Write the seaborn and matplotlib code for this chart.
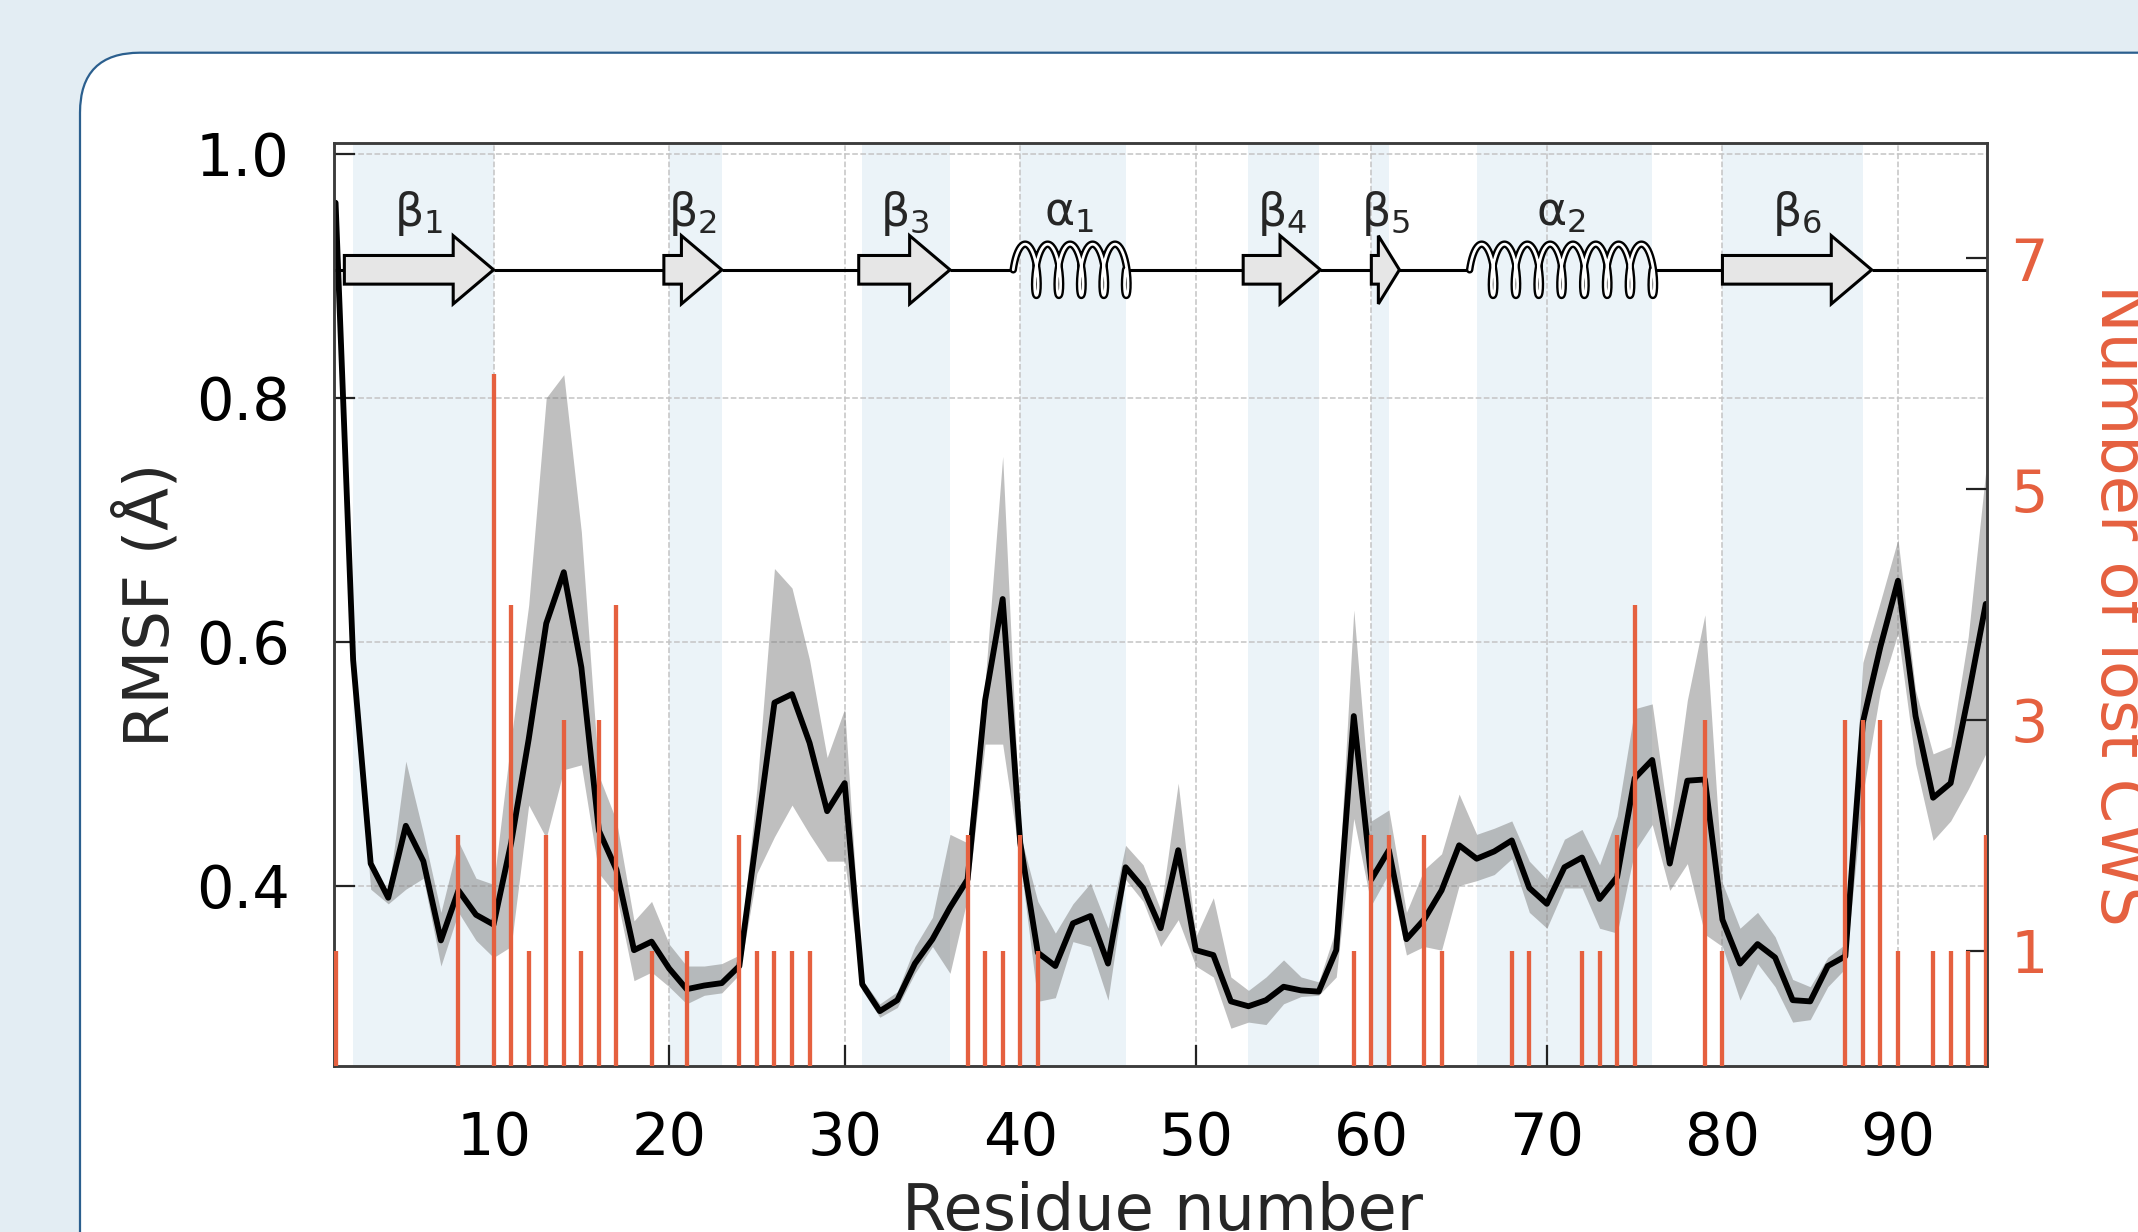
import numpy as np
import pandas as pd
import matplotlib.pyplot as plt
import seaborn as sns
from matplotlib.patches import FancyArrow, FancyBboxPatch
from matplotlib.transforms import IdentityTransform

# ---------------------------------------------------------------
# data
residues = list(range(1, 96))

rmsf = [0.960, 0.585, 0.418, 0.390, 0.449, 0.420, 0.355, 0.396, 0.376, 0.368,
        0.435, 0.520, 0.615, 0.657, 0.579, 0.445, 0.413, 0.347, 0.354, 0.332,
        0.315, 0.318, 0.320, 0.334, 0.442, 0.550, 0.557, 0.517, 0.461, 0.484,
        0.319, 0.297, 0.306, 0.336, 0.356, 0.382, 0.405, 0.552, 0.635, 0.435,
        0.345, 0.334, 0.369, 0.375, 0.336, 0.415, 0.398, 0.365, 0.429, 0.347,
        0.343, 0.305, 0.301, 0.306, 0.317, 0.314, 0.313, 0.347, 0.539, 0.405,
        0.429, 0.356, 0.372, 0.396, 0.433, 0.422, 0.428, 0.437, 0.398, 0.385,
        0.415, 0.423, 0.389, 0.407, 0.488, 0.503, 0.418, 0.486, 0.487, 0.372,
        0.336, 0.352, 0.341, 0.306, 0.305, 0.334, 0.342, 0.534, 0.596, 0.650,
        0.539, 0.472, 0.484, 0.555, 0.631]

rmsf_upper = [0.965, 0.600, 0.422, 0.394, 0.502, 0.443, 0.378, 0.436, 0.406, 0.401,
              0.520, 0.630, 0.800, 0.819, 0.690, 0.490, 0.453, 0.371, 0.387, 0.352,
              0.334, 0.334, 0.336, 0.343, 0.480, 0.660, 0.644, 0.585, 0.505, 0.545,
              0.323, 0.303, 0.313, 0.350, 0.374, 0.442, 0.435, 0.567, 0.752, 0.442,
              0.387, 0.361, 0.385, 0.402, 0.365, 0.433, 0.417, 0.380, 0.484, 0.358,
              0.390, 0.325, 0.314, 0.325, 0.339, 0.325, 0.321, 0.365, 0.626, 0.453,
              0.462, 0.378, 0.413, 0.426, 0.475, 0.442, 0.447, 0.453, 0.420, 0.405,
              0.438, 0.446, 0.417, 0.457, 0.545, 0.549, 0.446, 0.552, 0.622, 0.402,
              0.365, 0.378, 0.358, 0.323, 0.317, 0.341, 0.352, 0.583, 0.633, 0.684,
              0.560, 0.508, 0.514, 0.604, 0.740]

rmsf_lower = [0.955, 0.570, 0.397, 0.385, 0.397, 0.406, 0.334, 0.378, 0.355, 0.341,
              0.350, 0.466, 0.439, 0.495, 0.499, 0.410, 0.392, 0.322, 0.329, 0.317,
              0.303, 0.310, 0.312, 0.327, 0.410, 0.440, 0.466, 0.442, 0.420, 0.420,
              0.314, 0.292, 0.300, 0.328, 0.350, 0.328, 0.390, 0.516, 0.516, 0.420,
              0.305, 0.308, 0.354, 0.350, 0.306, 0.405, 0.387, 0.350, 0.372, 0.334,
              0.325, 0.283, 0.288, 0.286, 0.303, 0.309, 0.310, 0.325, 0.455, 0.384,
              0.410, 0.343, 0.350, 0.347, 0.400, 0.404, 0.409, 0.422, 0.378, 0.365,
              0.398, 0.398, 0.365, 0.361, 0.428, 0.450, 0.396, 0.418, 0.360, 0.350,
              0.306, 0.336, 0.317, 0.288, 0.290, 0.317, 0.332, 0.475, 0.560, 0.607,
              0.500, 0.437, 0.453, 0.479, 0.508]

cws_residues = [1, 8, 10, 11, 12, 13, 14, 15, 16, 17, 19, 21, 24, 25, 26, 27, 28,
                37, 38, 39, 40, 41, 59, 60, 61, 63, 64, 68, 69, 72, 73, 74, 75,
                79, 80, 87, 88, 89, 90, 92, 93, 94, 95]
cws_counts = [1, 2, 6, 4, 1, 2, 3, 1, 3, 4, 1, 1, 2, 1, 1, 1, 1,
              2, 1, 1, 2, 1, 1, 2, 2, 2, 1, 1, 1, 1, 1, 2, 4,
              3, 1, 3, 3, 3, 1, 1, 1, 1, 2]

# secondary structure
strand_labels = ["β$_1$", "β$_2$", "β$_3$", "β$_4$", "β$_5$", "β$_6$"]
strand_ranges = [(1.5, 10.0), (19.7, 23.0), (30.8, 36.0), (52.7, 57.1), (60.0, 61.6), (80.0, 88.5)]
helix_labels = ["α$_1$", "α$_2$"]
helix_ranges = [(39.6, 46.0), (65.6, 76.0)]
shaded_ranges = [(2, 10), (20, 23), (31, 36), (40, 46), (53, 57), (60, 61), (66, 76), (80, 88)]

RED = "#e5603f"
BG = "#e3edf3"

# ---------------------------------------------------------------
sns.set_theme(style="white")
plt.rcParams["font.family"] = ["DejaVu Sans"]
plt.rcParams["mathtext.fontset"] = "dejavusans"

W, H = 2138, 1232
fig = plt.figure(figsize=(W / 100, H / 100), dpi=100)
fig.patch.set_facecolor(BG)

# the white card behind the figure
card = FancyBboxPatch((80, -300), 2600, 1179.3 + 300, boxstyle="round,pad=0,rounding_size=60",
                      transform=IdentityTransform(), facecolor="white",
                      edgecolor="#2b5f8e", linewidth=1.6, zorder=-10)
fig.add_artist(card)

ax = fig.add_axes([334 / W, 1 - 1066 / H, 1653 / W, 923 / H])
ax.set_facecolor("none")

for s, e in shaded_ranges:
    ax.axvspan(s, e, color="#1f77b4", alpha=0.085, lw=0, zorder=0)

ax.grid(True, ls="--", color="#c4c4c4", lw=1.1)
ax.set_axisbelow(True)

df = pd.DataFrame({"Residue": residues, "RMSF": rmsf,
                   "upper": rmsf_upper, "lower": rmsf_lower})
ax.fill_between(df["Residue"], df["lower"], df["upper"], color="gray", alpha=0.5, lw=0, zorder=1)
sns.lineplot(data=df, x="Residue", y="RMSF", ax=ax, color="black", linewidth=4.2, zorder=2)

ax.set_xlim(0.91, 95.07)
ax.set_ylim(0.252, 1.009)
ax.set_xticks([10, 20, 30, 40, 50, 60, 70, 80, 90])
ax.set_yticks([0.4, 0.6, 0.8, 1.0])

# topology diagram
yc = 0.905
elements = sorted(strand_ranges + helix_ranges)
xs = [ax.get_xlim()[0]] + [v for el in elements for v in el] + [ax.get_xlim()[1]]
for i in range(0, len(xs), 2):
    ax.plot([xs[i], xs[i + 1]], [yc, yc], color="black", lw=2.2, zorder=4,
            solid_capstyle="butt")

for (s, e), lab in zip(strand_ranges, strand_labels):
    hl = min(2.3, 0.75 * (e - s))
    ax.add_patch(FancyArrow(s, yc, e - s, 0, width=0.0235, head_width=0.056,
                            head_length=hl, length_includes_head=True,
                            facecolor="#e6e6e6", edgecolor="black", lw=2.2, zorder=5))
    ax.text((s + e) / 2, 0.941, lab, ha="center", va="baseline", fontsize=33, zorder=6)

for (s, e), lab in zip(helix_ranges, helix_labels):
    n = max(1, round((e - s) / 1.3))
    t = np.linspace(0, n, 80 * n)
    hx = s + (e - s) * t / n + 0.36 * (1 - np.cos(2 * np.pi * t))
    hy = yc + 0.021 * np.sin(2 * np.pi * t)
    ax.plot(hx, hy, color="black", lw=5.4, zorder=5, solid_capstyle="round")
    ax.plot(hx, hy, color="white", lw=2.0, zorder=5.5, solid_capstyle="round")
    ax.text((s + e) / 2, 0.941, lab, ha="center", va="baseline", fontsize=33, zorder=6)

ax.set_xlabel("Residue number", fontsize=46)
ax.set_ylabel("RMSF (Å)", fontsize=45)
ax.xaxis.set_label_coords(0.501, -0.1246)
ax.yaxis.set_label_coords(-0.092, 0.5)

ax.tick_params(axis="both", direction="in", length=15, width=1.6, labelsize=42.5,
               pad=32, colors="#222222", labelcolor="black", top=False, right=False,
               bottom=True, left=True)
for sp in ax.spines.values():
    sp.set_color("#3c3c3c")
    sp.set_linewidth(1.8)

# lost CWS on the right axis
ax2 = ax.twinx()
ax2.vlines(cws_residues, 0, cws_counts, color=RED, lw=3.1, zorder=3)
ax2.set_ylim(0, 8)
ax2.set_yticks([1, 3, 5, 7])
ax2.grid(False)
ax2.tick_params(axis="y", direction="in", length=15, width=1.6, labelsize=42.5,
                pad=17, colors="#222222", labelcolor=RED, right=True, left=False)
ax2.set_ylabel("Number of lost CWS", color=RED, fontsize=46, rotation=270, va="bottom")
ax2.yaxis.set_label_coords(1.061, 0.5)
for sp in ax2.spines.values():
    sp.set_color("#3c3c3c")
    sp.set_linewidth(1.8)

fig.savefig("out.png", dpi=100, facecolor=fig.get_facecolor())
